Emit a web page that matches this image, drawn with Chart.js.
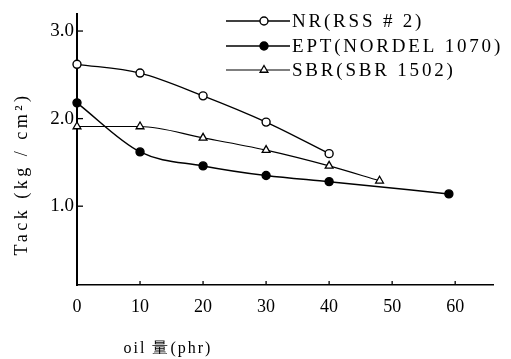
<!DOCTYPE html>
<html><head><meta charset="utf-8">
<script src="https://cdn.jsdelivr.net/npm/chart.js@4"></script>
<style>html,body{margin:0;padding:0;background:#fff}#w{width:511px;height:359px}</style>
</head><body><div id="w"><canvas id="c" width="511" height="359"></canvas></div>
<script>
// ---- data ----
const nrOil = [0, 10, 20, 30, 40];
const nrTack = [2.62, 2.52, 2.26, 1.96, 1.60];
const eptOil = [0, 10, 20, 30, 40, 59];
const eptTack = [2.18, 1.62, 1.46, 1.35, 1.28, 1.14];
const sbrOil = [0, 10, 20, 30, 40, 48];
const sbrTack = [1.91, 1.91, 1.78, 1.64, 1.46, 1.29];
const xTickValues = [0, 10, 20, 30, 40, 50, 60];
const yTickValues = [1, 2, 3];
const seriesNames = ["NR(RSS # 2)", "EPT(NORDEL 1070)", "SBR(SBR 1502)"];
const yTitle = "Tack (kg / cm²)";
const xTitle = "oil 量(phr)";

const pts = (xs, ys) => xs.map((x, i) => ({x: x, y: ys[i]}));
const SERIF = "'Liberation Serif','DejaVu Serif',serif";

const styles = [
  {pointStyle: 'circle', backgroundColor: '#fff', radius: 4, borderWidth: 1.4, lineWidth: 1.3},
  {pointStyle: 'circle', backgroundColor: '#000', radius: 4, borderWidth: 1.4, lineWidth: 1.5},
  {pointStyle: 'triangle', backgroundColor: '#fff', radius: 4.5, borderWidth: 1.3, lineWidth: 1.1}
];
const seriesData = [pts(nrOil, nrTack), pts(eptOil, eptTack), pts(sbrOil, sbrTack)];

const decor = {
  id: 'decor',
  afterDraw(chart) {
    const ctx = chart.ctx, xs = chart.scales.x, ys = chart.scales.y;
    ctx.save();
    ctx.strokeStyle = '#000'; ctx.lineWidth = 1.3;
    // inward tick marks
    xTickValues.slice(1).forEach(v => {
      const px = xs.getPixelForValue(v);
      ctx.beginPath(); ctx.moveTo(px, ys.bottom); ctx.lineTo(px, ys.bottom - 4); ctx.stroke();
    });
    yTickValues.forEach(v => {
      const py = ys.getPixelForValue(v);
      ctx.beginPath(); ctx.moveTo(xs.left, py); ctx.lineTo(xs.left + 6, py); ctx.stroke();
    });
    // legend
    const rows = [21, 46, 70];
    ctx.font = '19px ' + SERIF;
    ctx.textBaseline = 'middle'; ctx.textAlign = 'left';
    if ('letterSpacing' in ctx) ctx.letterSpacing = '2.8px';
    seriesNames.forEach((name, i) => {
      const y = rows[i], s = styles[i];
      ctx.lineWidth = s.lineWidth; ctx.strokeStyle = '#000';
      ctx.beginPath(); ctx.moveTo(226, y); ctx.lineTo(290, y); ctx.stroke();
      ctx.fillStyle = s.backgroundColor; ctx.lineWidth = s.borderWidth;
      Chart.helpers.drawPoint(ctx, {pointStyle: s.pointStyle, radius: s.radius, borderWidth: s.borderWidth, rotation: 0}, 264, y);
      ctx.fillStyle = '#000';
      ctx.fillText(name, 292, y + 1);
    });
    // axis titles
    ctx.font = '18px ' + SERIF;
    if ('letterSpacing' in ctx) ctx.letterSpacing = '3.5px';
    ctx.save();
    ctx.translate(22, 174); ctx.rotate(-Math.PI / 2);
    ctx.textAlign = 'center';
    ctx.fillText(yTitle, 0, 0);
    ctx.restore();
    ctx.font = '16px ' + SERIF;
    if ('letterSpacing' in ctx) ctx.letterSpacing = '2px';
    ctx.textAlign = 'center';
    ctx.fillText(xTitle, 168, 349);
    ctx.restore();
  }
};

new Chart(document.getElementById('c'), {
  type: 'line',
  data: {
    datasets: seriesNames.map((n, i) => ({
      label: n,
      data: seriesData[i],
      borderColor: '#000',
      borderWidth: styles[i].lineWidth,
      pointStyle: styles[i].pointStyle,
      pointRadius: styles[i].radius,
      pointBorderWidth: styles[i].borderWidth,
      pointBackgroundColor: styles[i].backgroundColor,
      pointBorderColor: '#000',
      cubicInterpolationMode: 'monotone',
      fill: false,
      clip: false
    }))
  },
  options: {
    responsive: false,
    animation: false,
    devicePixelRatio: 1,
    layout: {padding: {top: 10, right: 18, left: 0, bottom: 0}},
    plugins: {legend: {display: false}, tooltip: {enabled: false}},
    scales: {
      x: {
        type: 'linear', min: 0, max: 66,
        afterBuildTicks: s => { s.ticks = xTickValues.map(v => ({value: v})); },
        afterFit: s => { s.height = 74; },
        grid: {display: false, drawTicks: false},
        border: {display: true, color: '#000', width: 1.5},
        ticks: {color: '#000', padding: 11, font: {family: SERIF, size: 18}, maxRotation: 0, callback: v => String(v)}
      },
      y: {
        type: 'linear', min: 0.1, max: 3.19,
        afterBuildTicks: s => { s.ticks = yTickValues.map(v => ({value: v})); },
        afterFit: s => { s.width = 77; },
        grid: {display: false, drawTicks: false},
        border: {display: true, color: '#000', width: 2},
        ticks: {color: '#000', padding: 3, font: {family: SERIF, size: 19}, callback: v => Number(v).toFixed(1)}
      }
    }
  },
  plugins: [decor]
});
</script>
</body></html>
